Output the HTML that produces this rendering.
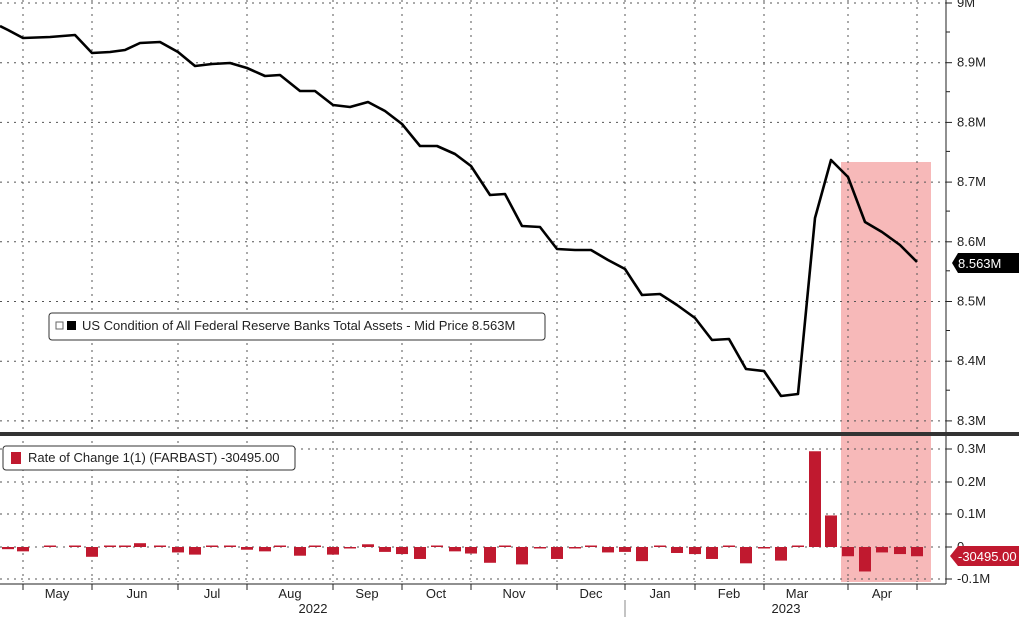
<!DOCTYPE html>
<html><head><meta charset="utf-8"><style>
body{margin:0;background:#fff;width:1019px;height:617px;overflow:hidden;font-family:"Liberation Sans",sans-serif}
svg text{font-family:"Liberation Sans",sans-serif;font-size:13px;fill:#222}
</style></head><body>
<svg id="c" width="1019" height="617" xmlns="http://www.w3.org/2000/svg"></svg>
<script>
const s=document.getElementById('c');let h='';
const pts=[[0,26],[8,30],[23,38],[50,37],[75,35],[92,53],[110,52],[125,50],[140,43],[160,42],[178,52],[195,66],[212,64],[230,63],[247,68],[265,76],[280,75],[300,91],[315,91],[333,105],[350,107],[368,102],[385,111],[402,124],[420,146],[437,146],[455,154],[471,166],[490,195],[505,194],[522,226],[540,227],[557,249],[575,250],[591,250],[608,260],[625,269],[642,295],[660,294],[677,305],[695,318],[712,340],[729,339],[746,369],[764,371],[781,396],[798,394],[815,218],[831,160],[848,177],[865,222],[882,232],[900,245],[917,262]];
h+='<rect x="841" y="162" width="90" height="420" fill="#f7b9b9"/>';
const vx=[23,92,178,247,333,402,471,557,625,695,764,848,917];
for(const x of vx){h+=`<line x1="${x}" y1="0" x2="${x}" y2="582" stroke="#555" stroke-dasharray="2,5" stroke-width="1"/>`;}
for(let i=0;i<8;i++){const y=3+i*59.7;h+=`<line x1="0" y1="${y}" x2="946" y2="${y}" stroke="#555" stroke-dasharray="2,5"/>`;
 h+=`<line x1="946" y1="${y}" x2="952" y2="${y}" stroke="#222"/><text x="957" y="${y+4}">${(9-i*0.1).toFixed(1).replace('9.0','9')}M</text>`;}
for(let i=0;i<7;i++){const y=32+i*59.7;h+=`<line x1="946" y1="${y}" x2="950" y2="${y}" stroke="#222"/>`;}
const bl=[[449,'0.3M'],[482,'0.2M'],[514,'0.1M'],[547,'0'],[579,'-0.1M']];
for(const [y,t] of bl){h+=`<line x1="0" y1="${y}" x2="946" y2="${y}" stroke="#555" stroke-dasharray="2,5"/><line x1="946" y1="${y}" x2="952" y2="${y}" stroke="#222"/><text x="957" y="${y+4}">${t}</text>`;}
for(let i=1;i<pts.length;i++){const dy=pts[i][1]-pts[i-1][1];let bh=-dy*0.544;const x=pts[i][0]-6;
 if(Math.abs(bh)<1.5)bh=bh<0?-1.5:1.5;const y=bh>0?547-bh:547;h+=`<rect x="${x}" y="${y}" width="12" height="${Math.abs(bh)}" fill="#c0192f"/>`;}
h+=`<polyline fill="none" stroke="#000" stroke-width="2.6" stroke-linejoin="round" points="${pts.map(p=>p.join(',')).join(' ')}"/>`;
h+='<line x1="946" y1="0" x2="946" y2="584" stroke="#222"/>';
h+='<rect x="0" y="432" width="1019" height="4" fill="#333"/>';
h+='<line x1="0" y1="584" x2="946" y2="584" stroke="#222"/>';
for(const x of vx){h+=`<line x1="${x}" y1="584" x2="${x}" y2="590" stroke="#222"/>`;}
const ml=[[57,'May'],[137,'Jun'],[212,'Jul'],[290,'Aug'],[367,'Sep'],[436,'Oct'],[514,'Nov'],[591,'Dec'],[660,'Jan'],[729,'Feb'],[797,'Mar'],[882,'Apr']];
for(const [x,t] of ml)h+=`<text x="${x}" y="598" text-anchor="middle">${t}</text>`;
h+='<text x="313" y="613" text-anchor="middle">2022</text><text x="786" y="613" text-anchor="middle">2023</text><line x1="625" y1="600" x2="625" y2="617" stroke="#888"/>';
h+='<path d="M952,263 L958,253 H1019 V273 H958 Z" fill="#000"/><text x="958" y="268" style="fill:#fff">8.563M</text>';
h+='<path d="M950,556 L958,546 H1019 V566 H958 Z" fill="#c0192f"/><text x="958" y="561" style="fill:#fff">-30495.00</text>';
h+='<rect x="49" y="313" width="496" height="27" rx="3" fill="#fff" stroke="#333"/><rect x="56" y="322" width="7" height="7" fill="none" stroke="#666"/><rect x="67" y="321" width="9" height="9" fill="#000"/><text x="82" y="330">US Condition of All Federal Reserve Banks Total Assets - Mid Price 8.563M</text>';
h+='<rect x="3" y="446" width="292" height="24" rx="3" fill="#fff" stroke="#333"/><rect x="11" y="452" width="10" height="12" fill="#c0192f"/><text x="28" y="462">Rate of Change 1(1) (FARBAST) -30495.00</text>';
s.innerHTML=h;
</script>
</body></html>
